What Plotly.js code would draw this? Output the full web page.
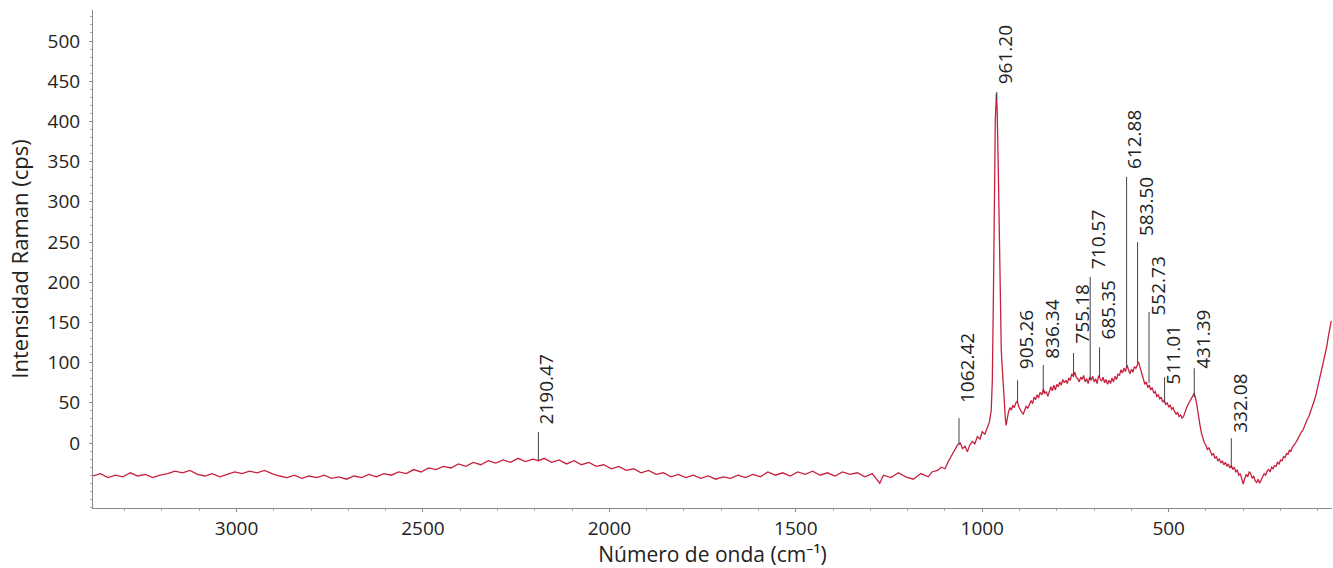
<!DOCTYPE html>
<html>
<head>
<meta charset="utf-8">
<script src="https://cdn.plot.ly/plotly-3.0.1.min.js"></script>
<style>html,body{margin:0;padding:0;background:#fff;}#chart{width:1333px;height:568px;}</style>
</head>
<body>
<div id="chart"></div>
<script>
// Raman spectrum: [wavenumber (cm-1), intensity (cps)]
const baselineRegion = [
 [3385,-41],[3365,-38],[3345,-43],[3325,-40],[3305,-42],[3285,-37],[3265,-41],[3245,-39],
 [3225,-43],[3205,-40],[3185,-38],[3165,-35],[3145,-37],[3125,-34],[3105,-39],[3085,-41],
 [3065,-38],[3045,-42],[3025,-39],[3005,-36],[2985,-38],[2965,-35],[2945,-37],[2925,-34],
 [2905,-38],[2885,-41],[2865,-43],[2845,-40],[2825,-44],[2805,-41],[2785,-43],[2765,-40],
 [2745,-44],[2725,-42],[2705,-45],[2685,-41],[2665,-43],[2645,-39],[2625,-42],[2605,-38],
 [2585,-40],[2565,-36],[2545,-38],[2525,-33],[2505,-36],[2485,-31],[2465,-33],[2445,-29],
 [2425,-31],[2405,-26],[2385,-29],[2365,-24],[2345,-27],[2325,-22],[2305,-25],[2285,-21],
 [2265,-24],[2245,-19],[2225,-23],[2205,-20],[2190,-22],[2175,-19],[2155,-24],[2135,-21],
 [2115,-26],[2095,-22],[2075,-27],[2055,-24],[2035,-29],[2015,-27],[1995,-32],[1975,-29],
 [1955,-34],[1935,-32],[1915,-37],[1895,-34],[1875,-39],[1855,-37],[1835,-42],[1815,-39],
 [1795,-43],[1775,-40],[1755,-44],[1735,-41],[1715,-45],[1695,-42],[1675,-44],[1655,-40],
 [1635,-43],[1615,-39],[1595,-42],[1575,-36],[1555,-40],[1535,-37],[1515,-41],[1495,-36],
 [1475,-39],[1455,-35],[1435,-40],[1415,-37],[1395,-41],[1375,-36],[1355,-39],[1335,-37],
 [1315,-42],[1295,-38],[1275,-50],[1265,-40],[1245,-43],[1225,-37],[1205,-42],[1185,-45],
 [1165,-38],[1145,-42],[1135,-36]
];
const phosphateRegion = [
 [1120,-34],[1110,-30],[1100,-32],[1090,-22],[1080,-14],[1072,-6],[1066,-2],[1059,0],
 [1053,-7],[1046,-4],[1040,-11],[1034,-3],[1027,2],[1020,-1],[1013,8],[1006,5],[1000,14],
 [993,11],[987,20],[981,26],[976,40],[973,78],[970,187],[968,302],[965,402],[962,435],
 [960,414],[957,340],[954,240],[952,153],[949,115],[946,91],[943,62],[941,47],[938,30],
 [936,22],[933,34],[930,38],[926,44],[922,41],[918,47],[914,44],[910,50],[906,52],[902,45],
 [898,41],[894,38],[890,36],[886,42],[882,46],[878,43],[873,50],[869,53],[865,49],[861,57],
 [857,54],[853,60],[849,56],[845,63],[840,60],[836,67],[832,62],[828,64],[824,58],[820,66],
 [816,70],[812,65],[808,72],[804,66],[800,73],[796,70],[792,76],[788,72],[784,79],[780,75],
 [776,78],[772,74],[768,81],[764,78],[760,86],[756,83],[752,88],[748,82],[744,80],[740,76],
 [736,82],[732,79],[728,84],[724,76],[720,80],[716,74],[712,82],[708,78],[704,83],[700,76],
 [696,80],[692,74],[688,84],[684,80],[680,77],[676,82],[672,75],[668,79],[664,73],[660,78],
 [656,74],[652,81],[648,76],[644,83],[640,79],[636,86],[632,84],[628,91],[624,87],[620,93],
 [616,89],[612,97],[608,91],[604,86],[600,92],[596,88],[592,95],[588,93],[584,97],[581,101],
 [578,96],[575,90],[572,84],[568,80],[564,73],[560,76],[556,69],[552,72],[548,66],[544,69],
 [540,62],[536,64],[532,58],[528,60],[524,55],[520,57],[516,51],[512,53],[508,48],[504,50],
 [500,45],[496,47],[492,42],[488,44],[484,39],[480,36],[476,38],[472,33],[468,35],[464,31],
 [460,33],[456,40],[452,44],[448,48],[444,51],[440,55],[436,58],[432,62],[428,56],[424,46],
 [420,30],[416,22],[412,12],[408,5]
];
const lowRegion = [
 [404,0],[400,-3],[396,-8],[392,-6],[388,-12],[384,-15],[380,-13],[376,-19],[372,-17],
 [368,-22],[364,-20],[360,-25],[356,-22],[352,-27],[348,-24],[344,-29],[340,-26],[336,-31],
 [332,-28],[328,-33],[324,-30],[320,-36],[316,-34],[312,-40],[308,-38],[304,-45],[300,-51],
 [296,-44],[292,-39],[288,-42],[284,-36],[280,-38],[276,-44],[272,-41],[268,-47],[264,-49],
 [260,-45],[256,-50],[252,-46],[248,-42],[244,-38],[240,-40],[236,-35],[232,-33],[228,-36],
 [224,-30],[220,-32],[216,-28],[212,-29],[208,-24],[204,-26],[200,-21],[196,-22],[192,-17],
 [188,-18],[184,-13],[180,-14],[176,-9],[172,-10],[168,-5],[164,-3],[160,0],[156,3],[152,7],
 [148,9],[144,14],[140,16],[136,21],[132,25],[128,30],[124,33],[120,38],[116,43],[112,50],
 [108,55],[104,62],[100,70],[96,76],[92,85],[88,93],[84,100],[80,110],[76,120],[72,132],
 [68,142],[64,152]
];

// Peak labels
const peakWavenumber = [2190.47,1062.42,961.20,905.26,836.34,755.18,710.57,685.35,612.88,583.50,552.73,511.01,431.39,332.08];
const peakLabels = ["2190.47","1062.42","961.20","905.26","836.34","755.18","710.57","685.35","612.88","583.50","552.73","511.01","431.39","332.08"];
const peakBase   = [-21,-2.5,427,50,62,82,78,82,94.5,99.5,74.6,50,57,-31];
const peakTop    = [13.7,31,436.6,78,97,112,206.5,119,331,250,163,82,93,6];
const labelStart = [18.7,44.8,441.5,87,99.5,119,211,124,336,252.5,153,68,87,7.5];

const xTicks = [3000,2500,2000,1500,1000,500];
const yTicks = [0,50,100,150,200,250,300,350,400,450,500];

const spectrum = baselineRegion.concat(phosphateRegion, lowRegion);
const wavenumber = spectrum.map(p=>p[0]);
const intensity = spectrum.map(p=>p[1]);

const FONT = '"Open Sans", "Noto Sans", sans-serif';

const shapes = peakWavenumber.map((w,i)=>({
  type:'line', xref:'x', yref:'y', x0:w, x1:w, y0:peakBase[i], y1:peakTop[i],
  line:{color:'#444', width:1}
}));
const annotations = peakWavenumber.map((w,i)=>({
  x:w, y:labelStart[i], xref:'x', yref:'y', text:peakLabels[i], showarrow:false,
  textangle:-90, xanchor:'center', yanchor:'bottom', xshift:8, yshift:2,
  font:{family:FONT, size:19, color:'#222'}
}));

const trace = {
  x: wavenumber, y: intensity, type:'scatter', mode:'lines',
  line:{color:'#c8203f', width:1.3}, hoverinfo:'x+y'
};

const layout = {
  width:1333, height:568,
  margin:{l:93, r:1, t:10, b:60},
  paper_bgcolor:'#fff', plot_bgcolor:'#fff',
  showlegend:false,
  font:{family:FONT, color:'#222'},
  xaxis:{
    range:[3385,62], tickvals:xTicks, ticktext:xTicks.map(String),
    showline:true, linecolor:'#8a8a8a', linewidth:1,
    ticks:'outside', ticklen:3, tickcolor:'#8a8a8a',
    minor:{dtick:100, ticks:'outside', ticklen:2, tickcolor:'#aaa'},
    showgrid:false, zeroline:false,
    tickfont:{family:FONT, size:19, color:'#222'},
    title:{text:'Número de onda (cm⁻¹)', font:{family:FONT, size:21, color:'#222'}, standoff:5}
  },
  yaxis:{
    range:[-80.8,538.6], tickvals:yTicks, ticktext:yTicks.map(String),
    showline:true, linecolor:'#8a8a8a', linewidth:1,
    ticks:'outside', ticklen:3, tickcolor:'#8a8a8a', ticklabelstandoff:5,
    minor:{dtick:10, ticks:'outside', ticklen:2, tickcolor:'#aaa'},
    showgrid:false, zeroline:false,
    tickfont:{family:FONT, size:19, color:'#222'},
    title:{text:'Intensidad Raman (cps)', font:{family:FONT, size:22, color:'#222'}, standoff:12}
  },
  shapes: shapes,
  annotations: annotations
};

Plotly.newPlot('chart',[trace],layout,{displayModeBar:false, staticPlot:true});
</script>
</body>
</html>
